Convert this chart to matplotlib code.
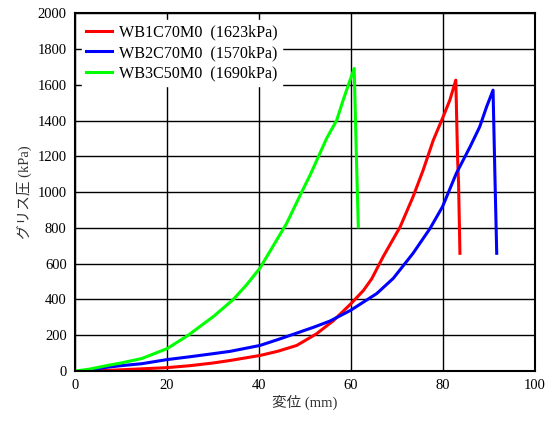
import matplotlib
matplotlib.use("Agg")
import matplotlib.pyplot as plt

# =============================================================================

labels = ["WB1C70M0  (1623kPa)", "WB2C70M0  (1570kPa)", "WB3C50M0  (1690kPa)"]
colors = ["#ff0000", "#0000ff", "#00ff00"]

# WB1C70M0
x1 = [3.6, 7.0, 10.9, 15.0, 20.0, 25.0, 30.0, 33.7, 40.2, 44.0, 48.2, 52.5, 56.2,
      59.9, 62.7, 64.5, 67.0, 70.7, 73.5, 75.7, 77.9, 79.9, 81.5, 82.8,
      83.2, 83.4, 83.7]
y1 = [0, 4, 8, 13, 19, 30, 45, 59, 87, 110, 143, 208, 282, 374, 450, 515, 639,
      806, 974, 1123, 1290, 1412, 1514, 1626, 1180, 1050, 658]

# WB2C70M0
x2 = [1.5, 4.0, 7.2, 10.0, 14.5, 20.0, 25.0, 30.0, 33.7, 40.2, 44.0, 48.2, 52.0,
      55.4, 59.9, 65.6, 69.2, 73.5, 77.2, 79.9, 82.9, 85.9, 88.0, 89.5, 90.9,
      91.3, 91.7]
y2 = [0, 10, 22, 30, 41, 64, 80, 97, 110, 143, 175, 212, 246, 279, 339, 433, 518,
      658, 797, 918, 1104, 1253, 1365, 1477, 1570, 1100, 658]

# WB3C50M0
x3 = [0.0, 3.0, 7.2, 10.0, 14.5, 20.0, 24.6, 27.2, 30.1, 34.4, 37.3, 40.2, 43.1,
      46.0, 49.3, 51.2, 52.9, 54.7, 56.9, 58.3, 59.8, 60.7, 61.2, 61.6]
y3 = [0, 10, 32, 45, 70, 125, 200, 250, 305, 400, 482, 575, 700, 825, 1001,
      1100, 1197, 1300, 1402, 1514, 1626, 1691, 1179, 806]

# =============================================================================

plt.rcParams['font.family'] = ['Liberation Serif', 'Noto Sans CJK JP']

fig = plt.figure(figsize=(5.52, 4.26), dpi=100)
ax = fig.add_axes([0.136, 0.129, 0.833, 0.840])

for xs, ys, c, lab in zip([x1, x2, x3], [y1, y2, y3], colors, labels):
    ax.plot(xs, ys, color=c, lw=2.2, label=lab, solid_joinstyle="round")

ax.set_xlim(0, 100)
ax.set_ylim(0, 2000)
ax.set_xticks(range(0, 101, 20))
ax.set_yticks(range(0, 2001, 200))
ax.grid(True, color="black", lw=1.0)
ax.set_axisbelow(True)
ax.tick_params(length=0, labelsize=10.5, pad=6)
for sp in ax.spines.values():
    sp.set_linewidth(1.5)

ax.set_xlabel("変位 (mm)", fontsize=10.5, color="#333333", labelpad=2)
ax.set_ylabel("グリス圧 (kPa)", fontsize=10.5, color="#333333", labelpad=4)

leg = ax.legend(loc="upper left", fontsize=11.6, handlelength=1.6,
                handletextpad=0.4, labelspacing=0.28, borderaxespad=0.4,
                borderpad=0.3, fancybox=False, framealpha=1.0,
                edgecolor="white")

fig.savefig("out.png", dpi=100)
